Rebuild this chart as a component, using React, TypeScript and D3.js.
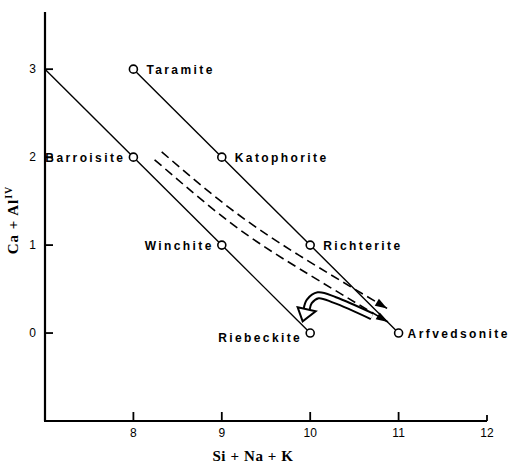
import { useEffect, useRef } from 'react';
import * as d3 from 'd3';

// end members: [Si+Na+K, Ca+AlIV]
const names = ['Taramite', 'Katophorite', 'Richterite', 'Arfvedsonite', 'Barroisite', 'Winchite', 'Riebeckite'];
const siNaK = [8, 9, 10, 11, 8, 9, 10];
const caAl = [3, 2, 1, 0, 2, 1, 0];
const labelSide = ['right', 'right', 'right', 'right', 'left', 'left', 'below'];

const upperLine = [[8, 3], [11, 0]];
const lowerLine = [[7, 3], [10, 0]];

// dashed trends toward arfvedsonite
const dashA = [[8.32, 2.06], [9.09, 1.42], [9.88, 0.88], [10.87, 0.28]];
const dashB = [[8.24, 1.97], [9.09, 1.26], [9.88, 0.73], [10.88, 0.125]];
// hooked arrow toward riebeckite
const hook = [[10.7, 0.19], [10.28, 0.375], [10.09, 0.43], [9.99, 0.36], [9.96, 0.27]];

const xTicks = [8, 9, 10, 11, 12];
const yTicks = [0, 1, 2, 3];

function App() {
  const svgRef = useRef(null);

  useEffect(() => {
    const svg = d3.select(svgRef.current);
    svg.selectAll('*').remove();

    const x = d3.scaleLinear().domain([7, 12]).range([45, 487]);
    const y = d3.scaleLinear().domain([-1, 3.65]).range([421, 12]);

    const sans = 'Liberation Sans, Arial, sans-serif';
    const serif = 'Liberation Serif, Times New Roman, serif';

    // axes
    svg.append('line').attr('x1', x(7)).attr('x2', x(7)).attr('y1', y(3.65)).attr('y2', y(-1))
      .attr('stroke', '#000').attr('stroke-width', 2.2);
    svg.append('line').attr('x1', x(7) - 1).attr('x2', x(12)).attr('y1', y(-1)).attr('y2', y(-1))
      .attr('stroke', '#000').attr('stroke-width', 2.2);

    svg.selectAll('.xt').data(xTicks).join('line')
      .attr('x1', d => x(d)).attr('x2', d => x(d))
      .attr('y1', y(-1)).attr('y2', d => y(-1) - (d === 12 ? 6 : 9))
      .attr('stroke', '#000').attr('stroke-width', 1.8);
    svg.selectAll('.xl').data(xTicks).join('text')
      .attr('x', d => x(d)).attr('y', 437)
      .attr('text-anchor', 'middle').attr('font-family', sans).attr('font-size', 12)
      .text(d => d);

    svg.selectAll('.yt').data(yTicks).join('line')
      .attr('x1', x(7)).attr('x2', x(7) + 8)
      .attr('y1', d => y(d)).attr('y2', d => y(d))
      .attr('stroke', '#000').attr('stroke-width', 1.8);
    svg.selectAll('.yl').data(yTicks).join('text')
      .attr('x', 36).attr('y', d => y(d) + 4)
      .attr('text-anchor', 'end').attr('font-family', sans).attr('font-size', 12)
      .text(d => d);

    svg.append('text').attr('x', 253).attr('y', 461)
      .attr('text-anchor', 'middle').attr('font-family', serif).attr('font-weight', 'bold')
      .attr('font-size', 15).attr('letter-spacing', 0.6).text('Si + Na + K');

    const yt = svg.append('text').attr('transform', 'translate(18,220) rotate(-90)')
      .attr('text-anchor', 'middle').attr('font-family', serif).attr('font-weight', 'bold')
      .attr('font-size', 15).attr('letter-spacing', 1);
    yt.append('tspan').text('Ca + Al');
    yt.append('tspan').attr('dy', -6).attr('font-size', 10).text('IV');

    // solid lines
    const line = d3.line().x(d => x(d[0])).y(d => y(d[1]));
    [upperLine, lowerLine].forEach(l => {
      svg.append('path').attr('d', line(l)).attr('fill', 'none')
        .attr('stroke', '#000').attr('stroke-width', 1.4);
    });

    // dashed trends with arrow heads
    const curve = d3.line().x(d => x(d[0])).y(d => y(d[1])).curve(d3.curveNatural);
    [dashA, dashB].forEach(l => {
      svg.append('path').attr('d', curve(l)).attr('fill', 'none')
        .attr('stroke', '#000').attr('stroke-width', 1.6).attr('stroke-dasharray', '9,5');
      const p1 = l[l.length - 1];
      const p0 = l[l.length - 2];
      const tx = x(p1[0]), ty = y(p1[1]);
      const ang = Math.atan2(ty - y(p0[1]), tx - x(p0[0]));
      const len = 12, w = 4;
      const bx = tx - len * Math.cos(ang), by = ty - len * Math.sin(ang);
      const pts = [[tx, ty], [bx + w * Math.sin(ang), by - w * Math.cos(ang)], [bx - w * Math.sin(ang), by + w * Math.cos(ang)]];
      svg.append('path').attr('d', 'M' + pts.map(p => p.join(',')).join('L') + 'Z').attr('fill', '#000');
    });

    // hooked outline arrow
    const hookCurve = d3.line().x(d => x(d[0])).y(d => y(d[1])).curve(d3.curveCatmullRom);
    svg.append('path').attr('d', hookCurve(hook)).attr('fill', 'none')
      .attr('stroke', '#000').attr('stroke-width', 8).attr('stroke-linecap', 'butt');
    svg.append('path').attr('d', hookCurve(hook)).attr('fill', 'none')
      .attr('stroke', '#fff').attr('stroke-width', 4).attr('stroke-linecap', 'butt');
    const hEnd = hook[hook.length - 1];
    const hx = x(hEnd[0]), hy = y(hEnd[1]);
    svg.append('path')
      .attr('d', `M${hx - 9},${hy - 2}L${hx + 9},${hy + 2}L${hx - 4},${hy + 12}Z`)
      .attr('fill', '#fff').attr('stroke', '#000').attr('stroke-width', 2).attr('stroke-linejoin', 'miter');

    // end-member points
    const idx = d3.range(names.length);
    svg.selectAll('.pt').data(idx).join('circle')
      .attr('cx', i => x(siNaK[i])).attr('cy', i => y(caAl[i])).attr('r', 4)
      .attr('fill', '#fff').attr('stroke', '#000').attr('stroke-width', 1.6);

    svg.selectAll('.lab').data(idx).join('text')
      .attr('x', i => x(siNaK[i]) + (labelSide[i] === 'right' ? (i === 3 ? 9 : 13) : -8))
      .attr('y', i => y(caAl[i]) + (labelSide[i] === 'below' ? 9 : 5))
      .attr('text-anchor', i => (labelSide[i] === 'right' ? 'start' : 'end'))
      .attr('font-family', sans).attr('font-weight', 'bold').attr('font-size', 12)
      .attr('letter-spacing', 2.4)
      .text(i => names[i]);
  }, []);

  return (
    <div style={{ position: 'absolute', left: 0, top: 0 }}>
      <svg ref={svgRef} width={512} height={463} style={{ display: 'block', background: '#fff' }} />
    </div>
  );
}

export default App;
